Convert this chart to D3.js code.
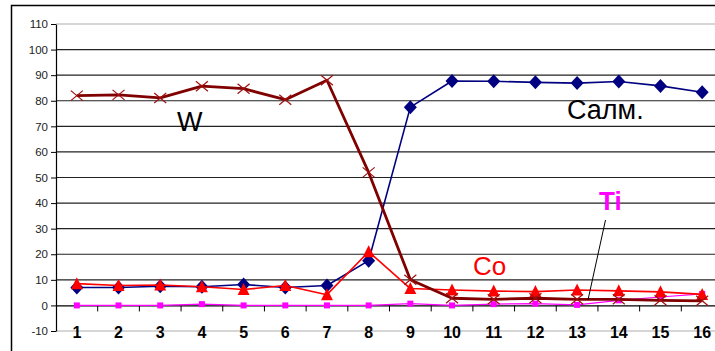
<!DOCTYPE html>
<html>
<head>
<meta charset="utf-8">
<script src="https://cdn.jsdelivr.net/npm/d3@7"></script>
<style>
  html, body { margin: 0; padding: 0; background: #fff; }
  svg { display: block; font-family: Arial, "Liberation Sans", sans-serif; }
</style>
</head>
<body>
<svg id="chart" width="715" height="351"></svg>
<script>
// Sample numbers along the profile
const categories = ["1","2","3","4","5","6","7","8","9","10","11","12","13","14","15","16"];

// Element content, %
const salmValues = [7, 7, 7.5, 7.3, 8.2, 7, 7.8, 17.5, 77.5, 87.7, 87.6, 87.2, 86.9, 87.5, 85.8, 83.3];
const wValues    = [82, 82.3, 81.1, 85.7, 84.7, 80.4, 88, 52, 10, 2.8, 2.4, 2.8, 2.4, 2.4, 2, 1.8];
const coValues   = [8.5, 7.8, 8, 7.3, 6.2, 7.8, 4.2, 21, 6.6, 6, 5.6, 5.4, 6, 5.7, 5.3, 4.3];
const tiValues   = [0, 0, 0, 0.5, 0, 0, 0, 0, 0.7, 0, 0.5, 0.7, 0.2, 2, 3.3, 4.5];

const yTicks = [-10, 0, 10, 20, 30, 40, 50, 60, 70, 80, 90, 100, 110];

const svg = d3.select("#chart");

// outer chart frame
svg.append("rect")
  .attr("x", 11.5).attr("y", 5.5)
  .attr("width", 760).attr("height", 400)
  .attr("fill", "none").attr("stroke", "#000").attr("stroke-width", 1.5);

const plotLeft = 56, plotRight = 723;
const x = d3.scaleBand().domain(categories).range([plotLeft, plotRight]).padding(0);
const y = d3.scaleLinear().domain([-10, 110]).range([331, 24]);
const cx = c => x(c) + x.bandwidth() / 2;

// horizontal gridlines
svg.append("g").selectAll("line")
  .data(yTicks.filter(t => t !== 0))
  .join("line")
  .attr("x1", plotLeft).attr("x2", plotRight)
  .attr("y1", d => y(d)).attr("y2", d => y(d))
  .attr("stroke", d => (d === -10 || d === 110) ? "#c8c8c8" : "#222")
  .attr("stroke-width", d => (d === -10 || d === 110) ? 1.5 : 1.1);

// value axis
const yAxis = svg.append("g")
  .attr("transform", `translate(${plotLeft},0)`)
  .call(d3.axisLeft(y).tickValues(yTicks).tickFormat(d => String(d))
    .tickSize(5).tickSizeOuter(0).tickPadding(3));
yAxis.select(".domain").attr("stroke", "#000").attr("stroke-width", 1.2);
yAxis.selectAll("line").attr("stroke", "#000");
yAxis.selectAll("text").attr("font-size", 11.5).attr("fill", "#222")
  .attr("font-family", "Arial, 'Liberation Sans', sans-serif");

// category axis on the zero line
const xAxis = svg.append("g")
  .attr("transform", `translate(0,${y(0)})`)
  .call(d3.axisBottom(x).tickSize(0).tickPadding(21));
xAxis.select(".domain").attr("stroke", "#000").attr("stroke-width", 1.2);
xAxis.selectAll("text")
  .attr("font-size", 16).attr("font-weight", "bold").attr("fill", "#000")
  .attr("font-family", "Arial, 'Liberation Sans', sans-serif");
// tick marks between categories
svg.append("g").selectAll("line")
  .data(categories.slice(1))
  .join("line")
  .attr("x1", d => x(d)).attr("x2", d => x(d))
  .attr("y1", y(0)).attr("y2", y(0) + 6)
  .attr("stroke", "#000");

const line = d3.line().x((d, i) => cx(categories[i])).y(d => y(d));

function drawSeries(values, color, width) {
  svg.append("path")
    .datum(values)
    .attr("d", line)
    .attr("fill", "none")
    .attr("stroke", color)
    .attr("stroke-width", width)
    .attr("stroke-linejoin", "round");
}

// Ti
drawSeries(tiValues, "#ff00ff", 1.2);
svg.append("g").selectAll("rect")
  .data(tiValues).join("rect")
  .attr("x", (d, i) => cx(categories[i]) - 3)
  .attr("y", d => y(d) - 3)
  .attr("width", 6).attr("height", 6)
  .attr("fill", "#ff00ff");

// Салм.
drawSeries(salmValues, "#000080", 1.6);
svg.append("g").selectAll("path")
  .data(salmValues).join("path")
  .attr("transform", (d, i) => `translate(${cx(categories[i])},${y(d)})`)
  .attr("d", "M0,-7 L6.5,0 L0,7 L-6.5,0 Z")
  .attr("fill", "#000080");

// Co
drawSeries(coValues, "#ff0000", 1.6);
svg.append("g").selectAll("path")
  .data(coValues).join("path")
  .attr("transform", (d, i) => `translate(${cx(categories[i])},${y(d)})`)
  .attr("d", "M0,-6.5 L6,5.5 L-6,5.5 Z")
  .attr("fill", "#ff0000");

// W
drawSeries(wValues, "#800000", 2.8);
svg.append("g").selectAll("path")
  .data(wValues).join("path")
  .attr("transform", (d, i) => `translate(${cx(categories[i])},${y(d)})`)
  .attr("d", "M-6,-5 L6,5 M-6,5 L6,-5")
  .attr("stroke", "#a01010")
  .attr("stroke-width", 1.2)
  .attr("fill", "none");

// series captions
svg.append("text").attr("x", 177).attr("y", 131)
  .attr("font-size", 27).attr("fill", "#000").text("W");
svg.append("text").attr("x", 567).attr("y", 119)
  .attr("font-size", 27).attr("fill", "#000").text("Салм.");
svg.append("text").attr("x", 473).attr("y", 275)
  .attr("font-size", 26).attr("fill", "#ff0000").text("Co");
svg.append("text").attr("x", 599).attr("y", 210)
  .attr("font-size", 26).attr("font-weight", "bold").attr("fill", "#ff00ff").text("Ti");

// leader line from the Ti caption to its curve
svg.append("line")
  .attr("x1", 605.5).attr("y1", 220)
  .attr("x2", 588).attr("y2", y(tiValues[12]) - 5)
  .attr("stroke", "#000").attr("stroke-width", 1);
</script>
</body>
</html>
